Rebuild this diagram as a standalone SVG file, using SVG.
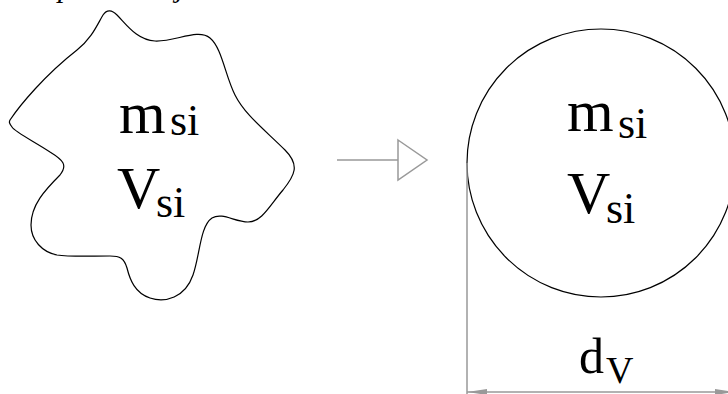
<svg xmlns="http://www.w3.org/2000/svg" width="728" height="394" viewBox="0 0 728 394">
<defs>
<style>
.shape{fill:none;stroke:#000;stroke-width:1.2}
.dim{fill:none;stroke:#999;stroke-width:1.5}
.lbl{font-family:"Liberation Serif","Times New Roman",serif;fill:#000}
.big{font-size:60px}
.sub{font-size:44px}
.cap{font-family:"Liberation Serif","Times New Roman",serif;font-style:italic;font-size:30px;fill:#000}
</style>
<marker id="ah" viewBox="0 0 20 6" refX="20" refY="3" markerWidth="20" markerHeight="6" markerUnits="userSpaceOnUse" orient="auto-start-reverse">
<path d="M0,0 L20,3 L0,6 Z" fill="#999"/>
</marker>
</defs>
<rect width="728" height="394" fill="#fff"/>
<text class="cap" x="58" y="-3">p</text>
<text class="cap" x="176" y="-3">j</text>
<g id="irregular">
<path class="shape" d="M 10,120 C 20,105 45,75 77,50 C 92,38 97,25 103,15 C 107,9 112,10 117,15 C 127,25 137,40 155,41 C 175,42 198,28 210,38 C 222,48 225,75 235,95 C 245,115 265,130 285,150 C 300,165 295,175 283,190 C 270,205 262,222 248,222 C 235,222 222,212 212,218 C 200,226 200,255 193,275 C 185,298 165,303 150,298 C 135,293 130,280 127,268 C 124,258 120,256 110,256 C 90,256 70,257 57,255 C 42,252 31,240 31,225 C 31,205 45,190 60,175 C 68,165 63,160 50,152 C 35,142 15,132 12,127 C 9,123 9,122 10,120 Z"/>
<text class="lbl big" x="119" y="133">m</text>
<text class="lbl sub" x="170" y="135">si</text>
<text class="lbl big" x="117" y="208">V</text>
<text class="lbl sub" x="156" y="217">si</text>
</g>
<g id="sphere">
<circle class="shape" cx="601" cy="163" r="134"/>
<text class="lbl big" x="567" y="131">m</text>
<text class="lbl sub" x="618" y="138">si</text>
<text class="lbl big" x="567" y="213">V</text>
<text class="lbl sub" x="606" y="223">si</text>
</g>
<g id="connectors">
<line class="dim" x1="337" y1="160" x2="398" y2="160"/>
<path class="dim" d="M398,140 L427,160 L398,180 Z" fill="#fff"/>
<line class="dim" x1="467" y1="163" x2="467" y2="394"/>
<line class="dim" x1="735" y1="163" x2="735" y2="394"/>
<line class="dim" x1="467" y1="392" x2="735" y2="392" marker-start="url(#ah)" marker-end="url(#ah)"/>
</g>
<g id="dim-label">
<text class="lbl" font-size="50" x="579" y="373">d</text>
<text class="lbl" font-size="38" x="606" y="383">V</text>
</g>
</svg>
